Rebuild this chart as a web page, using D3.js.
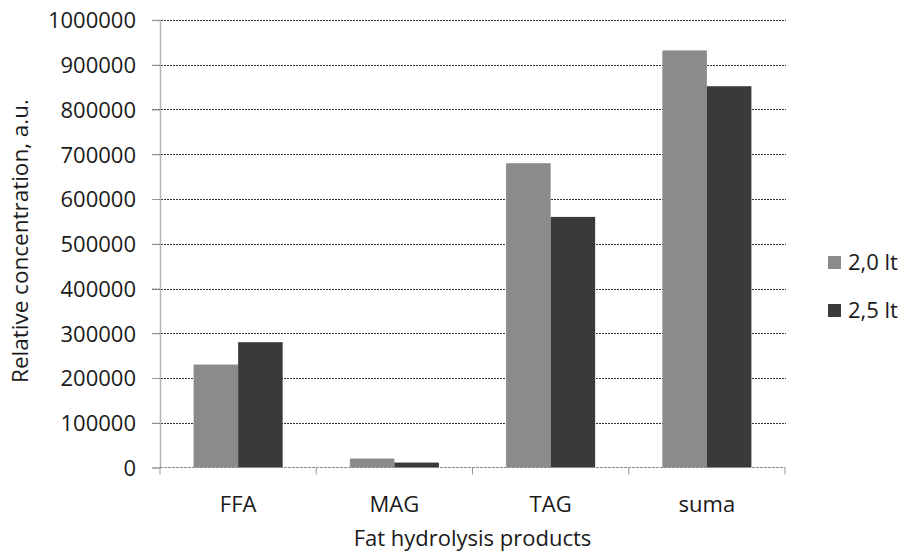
<!DOCTYPE html>
<html>
<head>
<meta charset="utf-8">
<script src="https://cdn.jsdelivr.net/npm/d3@7"></script>
<style>
  html, body { margin: 0; padding: 0; background: #fff; }
  svg { display: block; }
  text { font-family: "Open Sans", "Noto Sans", sans-serif; fill: #1a1a1a; }
</style>
</head>
<body>
<svg id="chart" width="906" height="553"></svg>
<script>
// Fat hydrolysis products, relative concentration (a.u.)
const categories = ["FFA", "MAG", "TAG", "suma"];
const seriesNames = ["2,0 lt", "2,5 lt"];
const values20 = [230000, 20000, 680000, 932000];
const values25 = [280000, 11000, 560000, 852000];
const yTicks = [0, 100000, 200000, 300000, 400000, 500000, 600000, 700000, 800000, 900000, 1000000];
const colors = ["#8b8b8b", "#3a3a3a"];

const svg = d3.select("#chart");
const plot = { left: 160, right: 785, top: 20, bottom: 467.5 };

const x = d3.scaleBand()
  .domain(categories)
  .range([plot.left, plot.right])
  .paddingInner(0.43)
  .paddingOuter(0.215);

const xInner = d3.scaleBand()
  .domain(seriesNames)
  .range([0, x.bandwidth()]);

const y = d3.scaleLinear()
  .domain([0, 1000000])
  .range([plot.bottom, plot.top]);

const crisp = v => Math.round(v) + 0.5;

// Horizontal gridlines
const grid = svg.append("g");
grid.selectAll("line")
  .data(yTicks.filter(d => d > 0))
  .join("line")
  .attr("x1", plot.left - 8)
  .attr("x2", plot.right + 1)
  .attr("y1", d => crisp(y(d)))
  .attr("y2", d => crisp(y(d)))
  .attr("stroke", "#333")
  .attr("stroke-width", 1)
  .attr("stroke-dasharray", "2,1");

// Left axis
const yAxis = d3.axisLeft(y)
  .tickValues(yTicks)
  .tickSize(8)
  .tickPadding(16)
  .tickFormat(d3.format("d"));

const gy = svg.append("g")
  .attr("transform", `translate(${plot.left},0)`)
  .call(yAxis);
gy.select(".domain").attr("stroke", "#b5b5b5").attr("stroke-width", 1.5);
gy.selectAll(".tick line").attr("stroke", "#9a9a9a");
gy.selectAll(".tick text")
  .attr("font-size", 22)
  .attr("font-family", "'Open Sans', sans-serif")
  .attr("fill", "#1a1a1a")
  .attr("dy", "0.36em");

// Bars
const dataRows = categories.map((c, i) => ({ cat: c, vals: [values20[i], values25[i]] }));
const groups = svg.append("g")
  .selectAll("g")
  .data(dataRows)
  .join("g")
  .attr("transform", d => `translate(${x(d.cat)},0)`);

groups.selectAll("rect")
  .data(d => d.vals.map((v, k) => ({ series: seriesNames[k], value: v, k })))
  .join("rect")
  .attr("x", d => xInner(d.series))
  .attr("width", xInner.bandwidth())
  .attr("y", d => y(d.value))
  .attr("height", d => y(0) - y(d.value))
  .attr("fill", d => colors[d.k]);

// Bottom axis with ticks between categories
const gx = svg.append("g");
gx.append("line")
  .attr("x1", plot.left).attr("x2", plot.right)
  .attr("y1", y(0)).attr("y2", y(0))
  .attr("stroke", "#8a8a8a")
  .attr("stroke-width", 1)
  .attr("stroke-dasharray", "3,1");
const step = x.step();
gx.selectAll("line.tick")
  .data(d3.range(categories.length + 1))
  .join("line")
  .attr("class", "tick")
  .attr("x1", i => plot.left + i * step)
  .attr("x2", i => plot.left + i * step)
  .attr("y1", y(0))
  .attr("y2", y(0) + 7)
  .attr("stroke", "#9a9a9a");

gx.selectAll("text")
  .data(categories)
  .join("text")
  .attr("x", d => x(d) + x.bandwidth() / 2)
  .attr("y", 512)
  .attr("text-anchor", "middle")
  .attr("font-size", 22)
  .text(d => d);

// Axis titles
svg.append("text")
  .attr("x", (plot.left + plot.right) / 2)
  .attr("y", 546)
  .attr("text-anchor", "middle")
  .attr("font-size", 22)
  .text("Fat hydrolysis products");

svg.append("text")
  .attr("transform", "translate(28,241) rotate(-90)")
  .attr("text-anchor", "middle")
  .attr("font-size", 22.5)
  .text("Relative concentration, a.u.");

// Legend
const legend = svg.append("g")
  .selectAll("g")
  .data(seriesNames)
  .join("g")
  .attr("transform", (d, i) => `translate(828,${256 + i * 48})`);
legend.append("rect")
  .attr("width", 13)
  .attr("height", 13)
  .attr("fill", (d, i) => colors[i]);
legend.append("text")
  .attr("x", 20)
  .attr("y", 14)
  .attr("font-size", 22)
  .text(d => d);
</script>
</body>
</html>
